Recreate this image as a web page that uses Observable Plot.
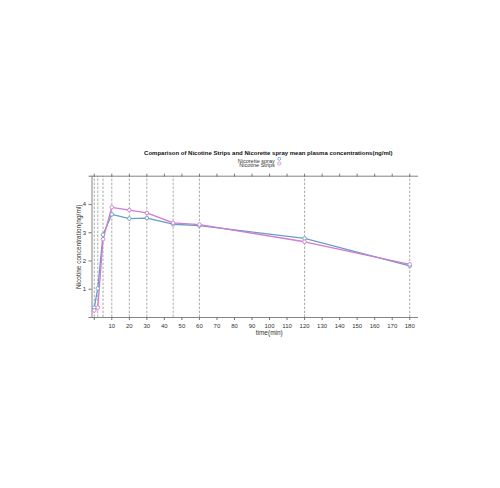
<!DOCTYPE html>
<html>
<head>
<meta charset="utf-8">
<script src="https://cdn.jsdelivr.net/npm/d3@7"></script>
<script src="https://cdn.jsdelivr.net/npm/@observablehq/plot@0.6"></script>
<style>
  html, body { margin: 0; padding: 0; background: #fff; }
  svg { font-family: "Liberation Sans", Arial, sans-serif; }
</style>
</head>
<body>
<div id="chart"></div>
<script>
const times = [0, 2, 5, 10, 20, 30, 45, 60, 120, 180];
const sprayValues = [0.35, 1.03, 2.93, 3.65, 3.5, 3.52, 3.3, 3.25, 2.8, 1.83];
const stripsValues = [0.25, 0.35, 2.77, 3.9, 3.8, 3.7, 3.35, 3.29, 2.68, 1.88];
const seriesNames = ["Nicorette spray", "Nicotine Strips"];
const seriesColors = ["#6b9dc4", "#cf7cd1"];
const xTicks = d3.range(0, 181, 10);
const yTicks = [0, 1, 2, 3, 4, 5];
const title = "Comparison of Nicotine Strips and Nicorette spray mean plasma concentrations(ng/ml)";
const xLabel = "time(min)";
const yLabel = "Nicotine concentration(ng/ml)";

const data = [
  ...times.map((t, i) => ({t, v: sprayValues[i], s: seriesNames[0]})),
  ...times.map((t, i) => ({t, v: stripsValues[i], s: seriesNames[1]}))
];

const axisColor = "#777";
const textColor = "#333";

const plot = Plot.plot({
  width: 500,
  height: 488,
  marginLeft: 91.5,
  marginRight: 82,
  marginTop: 175.7,
  marginBottom: 171,
  style: {fontFamily: "'Liberation Sans', Arial, sans-serif", background: "#fff"},
  x: {domain: [-1.3, 185]},
  y: {domain: [0, 5]},
  color: {domain: seriesNames, range: seriesColors},
  marks: [
    Plot.ruleX(times, {x: d => d, y1: 0, y2: 5, stroke: "#888", strokeWidth: 0.7, strokeDasharray: "2.5,1.5"}),
    Plot.ruleY([0], {stroke: axisColor, strokeWidth: 0.9}),
    Plot.ruleY([5], {stroke: axisColor, strokeWidth: 0.9}),
    Plot.ruleX([-1.3], {y1: 0, y2: 5, stroke: axisColor, strokeWidth: 0.9}),
    Plot.axisX({anchor: "bottom", ticks: xTicks, tickSize: 3, tickPadding: 3, stroke: axisColor, fill: textColor, fontSize: 6,
      tickFormat: d => d === 0 ? "" : d, label: null}),
    Plot.axisX({anchor: "top", ticks: xTicks, tickSize: 3, tickFormat: () => "", stroke: axisColor, label: null}),
    Plot.axisY({anchor: "left", ticks: yTicks, tickSize: 3, tickPadding: 3, stroke: axisColor, fill: textColor, fontSize: 6,
      tickFormat: d => (d >= 1 && d <= 4) ? d : "", label: null}),
    Plot.line(data, {x: "t", y: "v", stroke: "s", z: "s", strokeWidth: 1.3}),
    Plot.dot(data, {x: "t", y: "v", stroke: "s", r: 1.8, strokeWidth: 0.9, fill: "white"}),
    Plot.text([xLabel], {frameAnchor: "bottom", dx: 14, dy: 17, fill: textColor, fontSize: 6.5}),
    Plot.text([yLabel], {frameAnchor: "left", textAnchor: "middle", dx: -13, rotate: -90, fill: textColor, fontSize: 6.5}),
    Plot.text([title], {frameAnchor: "top", textAnchor: "middle", dx: 13, dy: -25.7, fill: "#111", fontSize: 6, fontWeight: "bold"}),
    Plot.text([seriesNames[0]], {frameAnchor: "top", textAnchor: "end", dx: 19.5, dy: -17.4, fill: textColor, fontSize: 5.5}),
    Plot.text([seriesNames[1]], {frameAnchor: "top", textAnchor: "end", dx: 19.5, dy: -12.7, fill: textColor, fontSize: 5.5}),
    Plot.dot([seriesNames[0]], {frameAnchor: "top", dx: 24, dy: -17.4, r: 1.5, stroke: seriesColors[0], strokeWidth: 0.8}),
    Plot.dot([seriesNames[1]], {frameAnchor: "top", dx: 24, dy: -12.7, r: 1.5, stroke: seriesColors[1], strokeWidth: 0.8})
  ]
});
document.getElementById("chart").appendChild(plot);
</script>
</body>
</html>
